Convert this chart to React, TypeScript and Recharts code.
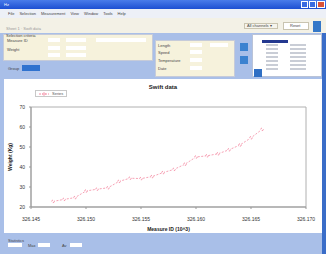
import React from 'react';
import {
  LineChart,
  Line,
  XAxis,
  YAxis,
  Legend,
  ReferenceArea,
} from 'recharts';

// measure ids (x 10^3) and weights
const measureIds = [
  326.147, 326.148, 326.149, 326.15, 326.151, 326.152, 326.153, 326.154, 326.155, 326.156,
  326.157, 326.158, 326.159, 326.16, 326.161, 326.162, 326.163, 326.164, 326.165, 326.166,
];
const weights = [
  22.8, 23.8, 24.7, 28.0, 28.9, 29.6, 32.8, 34.4, 34.2, 35.2,
  37.2, 38.8, 41.4, 45.0, 45.6, 46.6, 48.6, 51.0, 54.6, 58.8,
];
const xTicks = [326.145, 326.15, 326.155, 326.16, 326.165, 326.17];
const yTicks = [20, 30, 40, 50, 60, 70];
const menuItems = ['File', 'Selection', 'Measurement', 'View', 'Window', 'Tools', 'Help'];

const data = measureIds.map((id, i) => ({ id, weight: weights[i] }));

const PINK = '#f48aa2';
const tickStyle = { fill: '#333', fontSize: 5, fontFamily: 'Liberation Sans, Arial, sans-serif' };
const tiny: React.CSSProperties = { fontSize: 4, fontFamily: 'Liberation Sans, Arial, sans-serif', color: '#444' };

const box = (x: number, y: number, w: number, h: number, bg: string, extra?: React.CSSProperties) => (
  <div style={{ position: 'absolute', left: x, top: y, width: w, height: h, background: bg, ...extra }} />
);

const LegendBox = () => (
  <div
    style={{
      display: 'flex',
      alignItems: 'center',
      gap: 3,
      border: '1px solid #c8c8c8',
      background: '#fff',
      padding: '0 3px',
      height: 5,
      fontSize: 4,
      fontFamily: 'Liberation Sans, Arial, sans-serif',
      color: '#555',
    }}
  >
    <svg width={10} height={4}>
      <line x1={0} y1={2} x2={10} y2={2} stroke={PINK} strokeDasharray="2 1" />
      <circle cx={5} cy={2} r={1.2} fill="#fff" stroke={PINK} strokeWidth={0.8} />
    </svg>
    <span>Series</span>
  </div>
);

export default function App() {
  return (
    <div
      style={{
        position: 'fixed',
        left: 0,
        top: 0,
        width: 326,
        height: 254,
        overflow: 'hidden',
        background: '#a9bfe8',
      }}
    >
      {/* title bar */}
      <div
        style={{
          position: 'absolute',
          left: 0,
          top: 0,
          width: 326,
          height: 9,
          background: 'linear-gradient(#4a7cea, #1d4fd2)',
        }}
      >
        <span style={{ ...tiny, color: '#fff', position: 'absolute', left: 4, top: 2 }}>Hz</span>
        {box(301, 1, 7, 7, '#3a6be0', { border: '1px solid #fff', boxSizing: 'border-box' })}
        {box(309, 1, 7, 7, '#3a6be0', { border: '1px solid #fff', boxSizing: 'border-box' })}
        {box(317, 1, 8, 7, '#d9523a', { border: '1px solid #fff', boxSizing: 'border-box' })}
      </div>
      {/* menu bar */}
      <div
        style={{
          position: 'absolute',
          left: 0,
          top: 9,
          width: 326,
          height: 9,
          background: '#edf0f7',
          display: 'flex',
          gap: 5,
          paddingLeft: 8,
          alignItems: 'center',
        }}
      >
        {menuItems.map((m) => (
          <span key={m} style={tiny}>{m}</span>
        ))}
      </div>
      {/* toolbar */}
      <div style={{ position: 'absolute', left: 0, top: 18, width: 326, height: 15, background: '#f3f1e6' }}>
        <span style={{ ...tiny, position: 'absolute', left: 6, top: 8, color: '#999' }}>Sheet 1 · Swift data</span>
        {box(244, 5, 34, 6, '#f6f4ec', { border: '1px solid #c9c4b0', boxSizing: 'border-box' })}
        <span style={{ ...tiny, position: 'absolute', left: 247, top: 5 }}>All channels ▾</span>
        {box(283, 4, 26, 8, '#fff', { border: '1px solid #c9c4b0', boxSizing: 'border-box' })}
        <span style={{ ...tiny, position: 'absolute', left: 290, top: 5 }}>Reset</span>
        {box(313, 3, 8, 11, '#3578c8')}
      </div>
      {/* criteria panel */}
      {box(3, 34, 150, 27, '#f6f2dc', { border: '1px solid #c6cbd9', boxSizing: 'border-box' })}
      <span style={{ ...tiny, position: 'absolute', left: 6, top: 33 }}>Selection criteria</span>
      {box(48, 38, 12, 4, '#fff')}
      {box(66, 38, 20, 4, '#fff')}
      {box(48, 46, 12, 4, '#fff')}
      {box(66, 46, 20, 4, '#fff')}
      {box(48, 53, 12, 4, '#fff')}
      {box(66, 53, 20, 4, '#fff')}
      {box(96, 38, 50, 4, '#fff')}
      <span style={{ ...tiny, position: 'absolute', left: 7, top: 38 }}>Measure ID</span>
      <span style={{ ...tiny, position: 'absolute', left: 7, top: 47 }}>Weight</span>
      {box(155, 40, 80, 37, '#f6f2dc', { border: '1px solid #c6cbd9', boxSizing: 'border-box' })}
      {box(190, 43, 12, 4, '#fff')}
      {box(210, 43, 18, 4, '#fff')}
      {box(190, 50, 12, 4, '#fff')}
      {box(190, 58, 12, 4, '#fff')}
      {box(190, 66, 12, 4, '#fff')}
      <span style={{ ...tiny, position: 'absolute', left: 158, top: 43 }}>Length</span>
      <span style={{ ...tiny, position: 'absolute', left: 158, top: 50 }}>Speed</span>
      <span style={{ ...tiny, position: 'absolute', left: 158, top: 58 }}>Temperature</span>
      <span style={{ ...tiny, position: 'absolute', left: 158, top: 66 }}>Date</span>
      {box(240, 43, 8, 8, '#3b82d0')}
      {box(240, 56, 8, 8, '#3b82d0')}
      <span style={{ ...tiny, position: 'absolute', left: 8, top: 66 }}>Group</span>
      {box(22, 65, 18, 6, '#2f72cf')}
      {/* list box */}
      {box(252, 34, 70, 43, '#fff', { border: '1px solid #b9c3d8', boxSizing: 'border-box' })}
      {box(262, 40, 26, 3, '#23388f')}
      {[44, 48, 52, 56, 60, 64, 68].map((y) => (
        <React.Fragment key={y}>
          {box(266, y, 12, 2, '#c9cdd6')}
          {box(290, y, 16, 2, '#c9cdd6')}
        </React.Fragment>
      ))}
      {box(254, 69, 8, 8, '#2f6fc4')}
      {box(322, 33, 4, 221, '#3a6dc8')}
      {/* chart area */}
      <div
        style={{
          position: 'absolute',
          left: 4,
          top: 79,
          width: 318,
          height: 154,
          background: '#fff',
        }}
      >
        <div
          style={{
            position: 'absolute',
            left: 0,
            width: 318,
            top: 5,
            textAlign: 'center',
            fontSize: 6,
            fontWeight: 700,
            fontFamily: 'Liberation Sans, Arial, sans-serif',
            color: '#222',
          }}
        >
          Swift data
        </div>
        <LineChart width={318} height={154} data={data} margin={{ top: 21, right: 16, left: 0, bottom: 0 }}>
          <XAxis
            dataKey="id"
            type="number"
            domain={[326.145, 326.17]}
            ticks={xTicks}
            tickFormatter={(v: number) => v.toFixed(3)}
            tick={tickStyle}
            tickSize={2}
            tickMargin={8}
            stroke="#999"
            height={26}
            label={{
              value: 'Measure ID (10^3)',
              position: 'insideBottom',
              offset: 2,
              style: { fontSize: 5, fontWeight: 700, fill: '#222', fontFamily: 'Liberation Sans, Arial, sans-serif' },
            }}
          />
          <YAxis
            type="number"
            domain={[20, 70]}
            ticks={yTicks}
            tick={tickStyle}
            tickSize={2}
            tickMargin={4}
            stroke="#999"
            width={27}
            label={{
              value: 'Weight (Kg)',
              angle: -90,
              position: 'insideLeft',
              offset: 6,
              style: { fontSize: 5, fontWeight: 700, fill: '#222', textAnchor: 'middle', fontFamily: 'Liberation Sans, Arial, sans-serif' },
            }}
          />
          <ReferenceArea x1={326.145} x2={326.17} y1={20} y2={70} fill="none" stroke="#b0b0b0" strokeWidth={1} />
          <Legend
            verticalAlign="top"
            align="left"
            content={() => <LegendBox />}
            wrapperStyle={{ position: 'absolute', left: 31, top: 11, width: 'auto' }}
          />
          <Line
            type="linear"
            dataKey="weight"
            stroke={PINK}
            strokeWidth={0.8}
            strokeDasharray="2 1.5"
            dot={{ r: 1.3, stroke: PINK, strokeWidth: 0.8, fill: '#fff' }}
            isAnimationActive={false}
          />
        </LineChart>
      </div>
      {/* bottom panel */}
      <span style={{ ...tiny, position: 'absolute', left: 8, top: 238 }}>Statistics</span>
      {box(8, 243, 14, 4, '#fff')}
      <span style={{ ...tiny, position: 'absolute', left: 28, top: 243 }}>Max</span>
      {box(38, 243, 12, 4, '#fff')}
      <span style={{ ...tiny, position: 'absolute', left: 62, top: 243 }}>Av</span>
      {box(70, 243, 12, 4, '#fff')}
    </div>
  );
}
